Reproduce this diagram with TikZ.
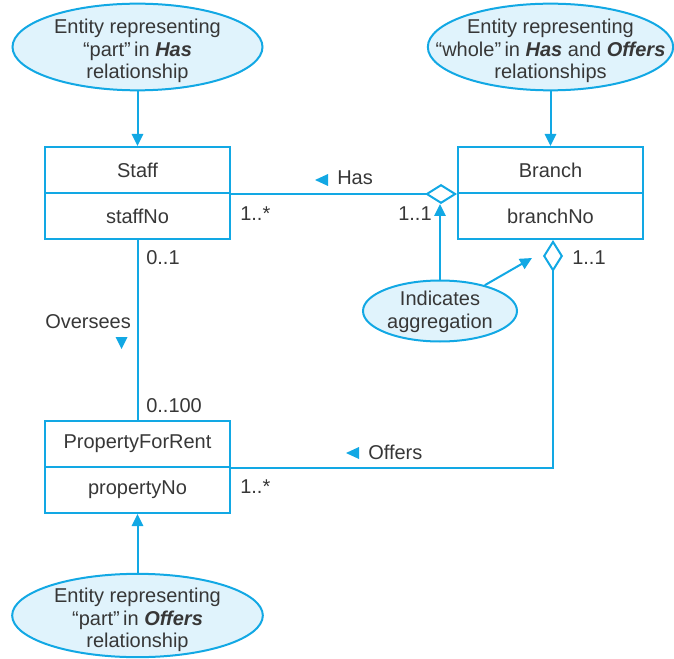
\documentclass[tikz,border=0pt]{standalone}
\usepackage{fontspec}
\setmainfont{Liberation Sans}
\usetikzlibrary{arrows.meta,shapes.geometric,calc}
\definecolor{cy}{RGB}{18,168,228}
\definecolor{bub}{RGB}{224,243,252}
\definecolor{tx}{RGB}{55,55,55}
\begin{document}
\begin{tikzpicture}[x=0.75pt,y=-0.75pt,
  font=\fontsize{15}{17}\selectfont, text=tx,
  ln/.style={draw=cy, line width=1.5pt},
  box/.style={draw=cy, line width=1.5pt, minimum width=138.75pt, minimum height=34.5pt, inner sep=0pt},
  bubble/.style={ellipse, draw=cy, fill=bub, line width=1.5pt, inner sep=0pt},
  btxt/.style={align=center, inner sep=0pt},
  lbl/.style={inner sep=0pt},
  tip/.style={-{Triangle[length=9pt,width=8.5pt]}},
  agg/.style={-{Diamond[fill=white,length=24pt,width=15pt]}}
]
\useasboundingbox (0,0) rectangle (674,659);

% boxes
\node[box] (staffT) at (137.5,170) {Staff};
\node[box] (staffB) at (137.5,216) {staffNo};
\node[box] (branchT) at (550.5,170) {Branch};
\node[box] (branchB) at (550.5,216) {branchNo};
\node[box] (propT) at (137.5,444) {PropertyForRent};
\node[box] (propB) at (137.5,490) {propertyNo};

% bubbles
\node[bubble, minimum width=187.5pt, minimum height=65pt] (e1) at (137.5,47) {};
\node[btxt] (e1t) at (137.5,51) {Entity representing\\“part”\,in \textbf{\textit{Has}}\\relationship};
\node[bubble, minimum width=184pt, minimum height=65pt] (e2) at (550.5,47) {};
\node[btxt] (e2t) at (550.5,51) {Entity representing\\“whole”\,in \textbf{\textit{Has}} and \textbf{\textit{Offers}}\\relationships};
\node[bubble, minimum width=188pt, minimum height=62.5pt] (e3) at (137.5,615.5) {};
\node[btxt] (e3t) at (137.5,620) {Entity representing\\“part”\,in \textbf{\textit{Offers}}\\relationship};
\node[bubble, minimum width=115.5pt, minimum height=45.75pt] (e4) at (440,311) {};
\node[btxt] (e4t) at (440,311.5) {Indicates\\aggregation};

% coordinates
\coordinate (hasd) at (440,204);
\coordinate (aggt) at (532,258);
\coordinate (brd) at ($(branchB.south)+(2.5,0)$);

% connectors
\draw[ln,tip] (e1) -- (staffT);
\draw[ln,tip] (e2) -- (branchT);
\draw[ln,tip] (e3) -- (propB);
\draw[ln,tip] (e4) -- (hasd);
\draw[ln,tip] (e4) -- (aggt);
\draw[ln,agg] (staffT.south east) -- (branchT.south west);
\draw[ln] (staffB) -- (propT);
\draw[ln,agg] (propT.south east) -| (brd);

% direction triangles
\fill[cy] (315,180) -- (328,174) -- (328,186) -- cycle;
\fill[cy] (346,453) -- (359,447) -- (359,459) -- cycle;
\fill[cy] (121.5,349) -- (115.5,337) -- (127.5,337) -- cycle;

% labels
\node[lbl, anchor=west] (hasl) at (337,178) {Has};
\node[lbl, anchor=west] (offl) at (368,452) {Offers};
\node[lbl, anchor=west] (ovl) at (45,322) {Oversees};
\node[lbl, anchor=west] (m1) at (240,214) {1..*};
\node[lbl, anchor=west] (m2) at (398,214) {1..1};
\node[lbl, anchor=west] (m3) at (146,258) {0..1};
\node[lbl, anchor=west] (m4) at (146,406) {0..100};
\node[lbl, anchor=west] (m5) at (572,258) {1..1};
\node[lbl, anchor=west] (m6) at (240,487) {1..*};
\end{tikzpicture}
\end{document}
